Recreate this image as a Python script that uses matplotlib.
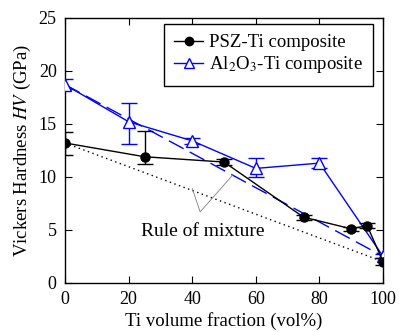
import matplotlib
matplotlib.use('Agg')
import matplotlib.pyplot as plt
from matplotlib.lines import Line2D

plt.rcParams['font.family'] = ['Liberation Serif', 'DejaVu Serif']
plt.rcParams['mathtext.fontset'] = 'stix'

# ----------------------------------------------------------------
# data
# ----------------------------------------------------------------
psz_x = [0, 25, 50, 75, 90, 95, 100]
psz_y = [13.2, 11.9, 11.4, 6.2, 5.1, 5.4, 2.0]
psz_err_lo = [1.1, 0.7, 0.3, 0.25, 0.2, 0.25, 0.3]
psz_err_hi = [1.0, 2.4, 0.3, 0.25, 0.2, 0.25, 0.3]

al_x = [0, 20, 40, 60, 80, 100]
al_y = [18.7, 15.2, 13.4, 10.8, 11.3, 2.5]
al_err_lo = [0.45, 2.1, 0.3, 0.8, 0.45, 0.2]
al_err_hi = [0.5, 1.8, 0.3, 1.0, 0.5, 0.2]

# straight lines: rule of mixture (dotted) and Al2O3 trend (dashed)
rom_x = [0, 100]
rom_y = [13.2, 2.0]
al_trend_x = [0, 100]
al_trend_y = [18.7, 2.5]

fig = plt.figure(figsize=(3.99, 3.32), dpi=100)
ax = fig.add_axes([0.163, 0.148, 0.797, 0.798])

ax.plot(rom_x, rom_y, color='black', linestyle=(0, (1, 2.5)), linewidth=1)
ax.plot(al_trend_x, al_trend_y, color='blue', linestyle=(0, (12, 5)), linewidth=1)

ax.errorbar(al_x, al_y, yerr=[al_err_lo, al_err_hi], color='blue', marker='^',
            markersize=8, markerfacecolor='white', markeredgecolor='blue',
            linewidth=1, capsize=5.5, ecolor='blue', elinewidth=1, capthick=1,
            zorder=3)
ax.errorbar(psz_x, psz_y, yerr=[psz_err_lo, psz_err_hi], color='black', marker='o',
            markersize=6.5, linewidth=1, capsize=5.5, ecolor='black', elinewidth=1,
            capthick=1, zorder=4)

# annotation for the rule of mixture
ax.plot([40.0, 42.5, 52.8], [8.9, 6.7, 10.2], color='gray', linewidth=0.6)
ax.text(43.4, 4.8, 'Rule of mixture', fontsize=14, ha='center', va='center')

ax.set_xlim(0, 100)
ax.set_ylim(0, 25)
ax.set_xticks([0, 20, 40, 60, 80, 100])
ax.set_yticks([0, 5, 10, 15, 20, 25])
ax.tick_params(direction='in', top=True, right=True, length=5, labelsize=13, pad=6)
for s in ax.spines.values():
    s.set_linewidth(1)

ax.set_xlabel('Ti volume fraction (vol%)', fontsize=13.5, labelpad=3)
ax.set_ylabel('Vickers Hardness $\\mathit{HV}$ (GPa)', fontsize=13.5, labelpad=4)

# legend with plain line+marker handles (no error bar)
h_psz = Line2D([], [], color='black', marker='o', markersize=6, linewidth=1)
h_al = Line2D([], [], color='blue', marker='^', markersize=7,
              markerfacecolor='white', linewidth=1)
leg = ax.legend([h_psz, h_al], ['PSZ-Ti composite', 'Al$_2$O$_3$-Ti composite'],
                loc='upper right', fontsize=13.5,
                fancybox=False, edgecolor='black', framealpha=1,
                handlelength=1.55, handletextpad=0.3, borderpad=0.55,
                labelspacing=0.15, borderaxespad=0,
                bbox_to_anchor=(0.969, 0.977))
leg.get_frame().set_linewidth(1)

plt.savefig('out.png', dpi=100)
